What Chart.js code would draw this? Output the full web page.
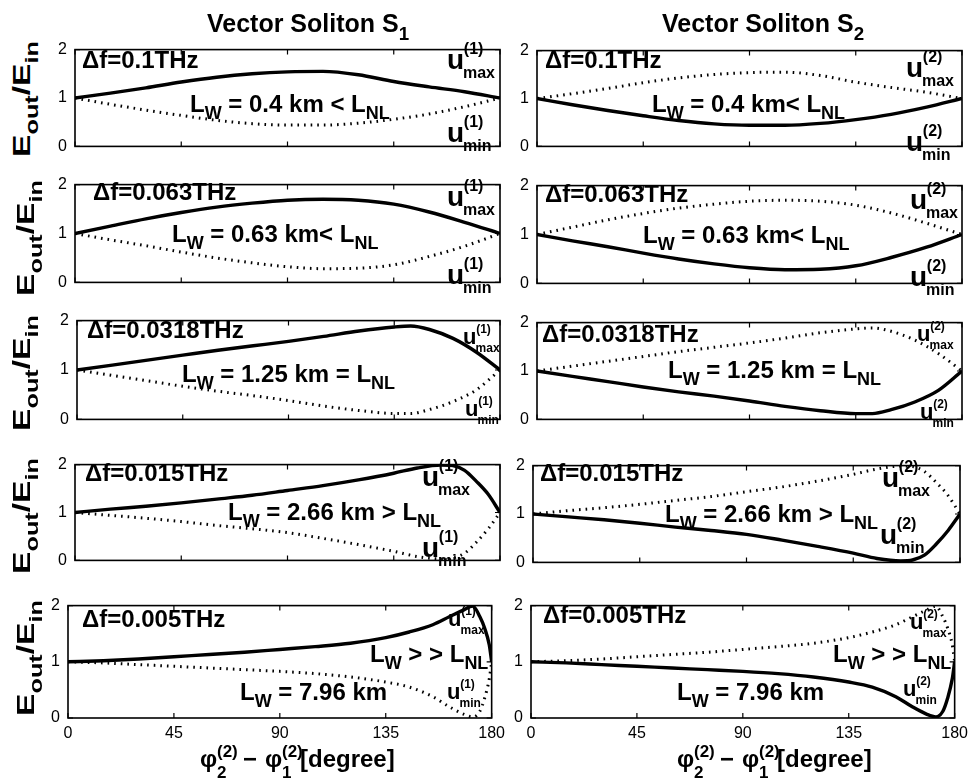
<!DOCTYPE html>
<html>
<head>
<meta charset="utf-8">
<script src="https://cdn.jsdelivr.net/npm/chart.js@4/dist/chart.umd.min.js"></script>
<style>
  body { margin: 0; background: #fff; }
  #fig { position: relative; width: 974px; height: 781px; overflow: hidden;
         font-family: "Liberation Sans", Arial, Helvetica, sans-serif; }
  .pan { position: absolute; }
  .t { position: absolute; white-space: nowrap; line-height: 1; font-weight: bold; color: #000; z-index: 2; }
  .sb { font-size: 0.75em; position: relative; top: 0.42em; }
</style>
</head>
<body>
<div id="fig"></div>
<script>
// tick values
const xTicks = [0, 45, 90, 135, 180];
const yTicks = [0, 1, 2];

// row 1, df = 0.1 THz
const phase1 = [0, 15, 30, 45, 60, 75, 90, 105, 120, 135, 150, 165, 180];
const upper1 = [1.00, 1.10, 1.21, 1.33, 1.43, 1.50, 1.54, 1.55, 1.48, 1.34, 1.23, 1.13, 1.00];
const lower1 = [1.00, 0.87, 0.75, 0.64, 0.54, 0.47, 0.44, 0.44, 0.48, 0.56, 0.67, 0.82, 1.00];

// row 2, df = 0.063 THz
const phase2 = [0, 15, 30, 45, 60, 75, 90, 105, 120, 135, 150, 165, 180];
const upper2 = [1.00, 1.15, 1.30, 1.43, 1.54, 1.62, 1.68, 1.70, 1.68, 1.60, 1.44, 1.23, 1.00];
const lower2 = [1.00, 0.87, 0.75, 0.62, 0.50, 0.40, 0.32, 0.28, 0.29, 0.36, 0.53, 0.74, 1.00];

// row 3, df = 0.0318 THz
const phase3 = [0, 15, 30, 45, 60, 75, 90, 105, 120, 135, 142, 150, 160, 170, 180];
const upper3 = [1.00, 1.10, 1.20, 1.30, 1.40, 1.49, 1.58, 1.68, 1.79, 1.87, 1.89, 1.82, 1.64, 1.36, 1.00];
const lower3 = [1.00, 0.89, 0.78, 0.67, 0.57, 0.48, 0.38, 0.27, 0.18, 0.12, 0.12, 0.20, 0.36, 0.60, 1.00];

// row 4, df = 0.015 THz
const phase4 = [0, 15, 30, 45, 60, 75, 90, 105, 120, 135, 145, 155, 160, 165, 170, 175, 180];
const upper4 = [1.00, 1.07, 1.13, 1.20, 1.28, 1.36, 1.46, 1.56, 1.68, 1.82, 1.93, 1.99, 1.98, 1.88, 1.65, 1.38, 1.00];
const lower4 = [1.00, 0.94, 0.88, 0.81, 0.73, 0.66, 0.58, 0.46, 0.33, 0.19, 0.08, 0.03, 0.05, 0.15, 0.38, 0.66, 1.00];

// row 5, df = 0.005 THz
const phase5 = [0, 15, 30, 45, 60, 75, 90, 105, 120, 135, 145, 155, 162, 168, 172, 175, 177, 179, 180];
const upper5 = [1.00, 1.02, 1.05, 1.09, 1.13, 1.17, 1.22, 1.27, 1.33, 1.43, 1.53, 1.66, 1.80, 1.92, 1.99, 1.80, 1.60, 1.30, 1.00];
const lower5 = [1.00, 0.98, 0.95, 0.92, 0.89, 0.86, 0.83, 0.79, 0.73, 0.64, 0.55, 0.38, 0.20, 0.07, 0.02, 0.12, 0.35, 0.70, 1.00];

const freqLabels = ["Δf=0.1THz", "Δf=0.063THz", "Δf=0.0318THz", "Δf=0.015THz", "Δf=0.005THz"];

const rows = [
  { phase: phase1, upper: upper1, lower: lower1 },
  { phase: phase2, upper: upper2, lower: lower2 },
  { phase: phase3, upper: upper3, lower: lower3 },
  { phase: phase4, upper: upper4, lower: lower4 },
  { phase: phase5, upper: upper5, lower: lower5 }
];

// plot boxes [left, top, right, bottom] for each row
const boxL = [[75, 42, 500, 160], [75, 177, 500, 296], [77, 313, 500, 433], [75, 457, 500, 574], [68, 598, 495, 718]];
const boxR = [[537, 43, 962, 160], [537, 178, 962, 297], [537, 315, 962, 433], [533, 458, 960, 576], [531, 598, 958, 718]];

const fig = document.getElementById("fig");
const FONT = '"Liberation Sans", Arial, Helvetica, sans-serif';

// frame with inward ticks, like the matlab axes
const framePlugin = {
  id: "frame",
  afterDatasetsDraw(chart) {
    const { ctx, chartArea: a, scales } = chart;
    ctx.save();
    ctx.strokeStyle = "#000";
    ctx.lineWidth = 1.6;
    ctx.strokeRect(a.left, a.top, a.right - a.left, a.bottom - a.top);
    ctx.lineWidth = 1.2;
    ctx.beginPath();
    xTicks.forEach(v => {
      const px = scales.x.getPixelForValue(v);
      ctx.moveTo(px, a.bottom); ctx.lineTo(px, a.bottom - 5);
      ctx.moveTo(px, a.top); ctx.lineTo(px, a.top + 5);
    });
    yTicks.forEach(v => {
      const py = scales.y.getPixelForValue(v);
      ctx.moveTo(a.left, py); ctx.lineTo(a.left + 5, py);
      ctx.moveTo(a.right, py); ctx.lineTo(a.right - 5, py);
    });
    ctx.stroke();
    ctx.restore();
  }
};

function points(xs, ys) {
  return xs.map((x, i) => ({ x: x, y: ys[i] }));
}

function solid(data) {
  return { data: data, borderColor: "#000", borderWidth: 3.4, pointRadius: 0,
           cubicInterpolationMode: "monotone", fill: false };
}
function dotted(data) {
  return { data: data, borderColor: "#000", borderWidth: 3, borderDash: [1.6, 5],
           borderCapStyle: "butt", pointRadius: 0, cubicInterpolationMode: "monotone", fill: false };
}

function makePanel(box, datasets, bottomRow) {
  const ML = 30, MT = 10, MR = 16, MB = bottomRow ? 30 : 4;
  const [l, t, r, b] = box;
  const w = r - l + ML + MR, h = b - t + MT + MB;
  const cv = document.createElement("canvas");
  cv.className = "pan";
  cv.width = w; cv.height = h;
  cv.style.left = (l - ML) + "px";
  cv.style.top = (t - MT) + "px";
  cv.style.width = w + "px";
  cv.style.height = h + "px";
  fig.appendChild(cv);
  new Chart(cv, {
    type: "line",
    data: { datasets: datasets },
    options: {
      responsive: false,
      animation: false,
      layout: { padding: { top: MT, right: MR, bottom: bottomRow ? 0 : MB, left: 0 } },
      plugins: { legend: { display: false }, tooltip: { enabled: false } },
      scales: {
        x: {
          type: "linear", min: 0, max: 180,
          grid: { display: false, drawTicks: false },
          border: { display: false },
          afterBuildTicks: s => { s.ticks = xTicks.map(v => ({ value: v })); },
          ticks: { display: bottomRow, padding: 6, color: "#000", font: { size: 16, family: FONT } },
          afterFit: s => { s.height = bottomRow ? MB : 0; }
        },
        y: {
          type: "linear", min: 0, max: 2,
          grid: { display: false, drawTicks: false },
          border: { display: false },
          afterBuildTicks: s => { s.ticks = yTicks.map(v => ({ value: v })); },
          ticks: { padding: 8, color: "#000", font: { size: 16, family: FONT } },
          afterFit: s => { s.width = ML; }
        }
      }
    },
    plugins: [framePlugin]
  });
}

// text placed by its baseline
function put(x, base, html, size) {
  const d = document.createElement("div");
  d.className = "t";
  d.style.left = x + "px";
  d.style.top = (base - 0.85 * size) + "px";
  d.style.fontSize = size + "px";
  d.innerHTML = html;
  fig.appendChild(d);
  return d;
}

function uLabel(x, base, n, sub, U, S) {
  put(x, base, "u", U);
  put(x + 0.6 * U, base - 0.55 * U, "(" + n + ")", S);
  put(x + 0.57 * U, base + 0.32 * U, sub, S);
}

function yLabel(cx, cy) {
  const d = document.createElement("div");
  d.className = "t";
  d.style.fontSize = "24px";
  d.style.width = "120px";
  d.style.height = "24px";
  d.style.lineHeight = "24px";
  d.style.textAlign = "center";
  d.style.left = (cx - 60) + "px";
  d.style.top = (cy - 12) + "px";
  d.style.transform = "rotate(-90deg) scaleX(1.4)";
  d.innerHTML = 'E<span class="sb">out</span>/E<span class="sb">in</span>';
  fig.appendChild(d);
}

function xLabel(x0) {
  put(x0, 767, "φ", 24);
  put(x0 + 17, 757, "(2)", 17);
  put(x0 + 17, 778, "2", 17);
  put(x0 + 43, 767, "−", 24);
  put(x0 + 65, 767, "φ", 24);
  put(x0 + 82, 757, "(2)", 17);
  put(x0 + 82, 778, "1", 17);
  put(x0 + 100, 767, "[degree]", 24);
}

// charts
rows.forEach((row, i) => {
  const up = points(row.phase, row.upper);
  const lo = points(row.phase, row.lower);
  makePanel(boxL[i], [solid(up), dotted(lo)], i === 4);
  makePanel(boxR[i], [dotted(up), solid(lo)], i === 4);
});

// titles
put(207, 32, 'Vector Soliton S<span class="sb">1</span>', 25);
put(662, 32, 'Vector Soliton S<span class="sb">2</span>', 25);

// frequency labels
const freqPos = [[82, 68, 545, 68], [93, 200, 545, 202], [87, 338, 542, 342], [85, 481, 540, 481], [82, 627, 543, 623]];
freqPos.forEach((p, i) => {
  put(p[0], p[1], freqLabels[i], 24);
  put(p[2], p[3], freqLabels[i], 24);
});

// walk-off length labels
const LW = 'L<span class="sb">W</span>';
const LNL = 'L<span class="sb">NL</span>';
put(190, 112, LW + " = 0.4 km &lt; " + LNL, 24);
put(652, 112, LW + " = 0.4 km&lt; " + LNL, 24);
put(172, 242, LW + " = 0.63 km&lt; " + LNL, 24);
put(643, 243, LW + " = 0.63 km&lt; " + LNL, 24);
put(182, 382, LW + " = 1.25 km = " + LNL, 24);
put(668, 378, LW + " = 1.25 km = " + LNL, 24);
put(228, 520, LW + " = 2.66 km &gt; " + LNL, 24);
put(665, 522, LW + " = 2.66 km &gt; " + LNL, 24);
put(370, 662, LW + " &gt; &gt; " + LNL, 24);
put(240, 700, LW + " = 7.96 km", 24);
put(833, 662, LW + " &gt; &gt; " + LNL, 24);
put(677, 700, LW + " = 7.96 km", 24);

// u max / u min labels
uLabel(447, 70, 1, "max", 28, 16);
uLabel(447, 143, 1, "min", 28, 16);
uLabel(906, 78, 2, "max", 28, 16);
uLabel(906, 152, 2, "min", 28, 16);
uLabel(447, 207, 1, "max", 28, 16);
uLabel(447, 285, 1, "min", 28, 16);
uLabel(910, 210, 2, "max", 28, 16);
uLabel(910, 287, 2, "min", 28, 16);
uLabel(463, 345, 1, "max", 22, 12);
uLabel(465, 417, 1, "min", 22, 12);
uLabel(917, 342, 2, "max", 22, 12);
uLabel(920, 420, 2, "min", 22, 12);
uLabel(422, 487, 1, "max", 28, 16);
uLabel(422, 558, 1, "min", 28, 16);
uLabel(882, 488, 2, "max", 28, 16);
uLabel(880, 545, 2, "min", 28, 16);
uLabel(448, 627, 1, "max", 22, 12);
uLabel(447, 700, 1, "min", 22, 12);
uLabel(910, 630, 2, "max", 22, 12);
uLabel(903, 697, 2, "min", 22, 12);

// axis labels
[99, 238, 373, 516, 658].forEach((cy, i) => yLabel(i === 1 || i === 4 ? 26 : 22, cy));
xLabel(200);
xLabel(677);
</script>
</body>
</html>
